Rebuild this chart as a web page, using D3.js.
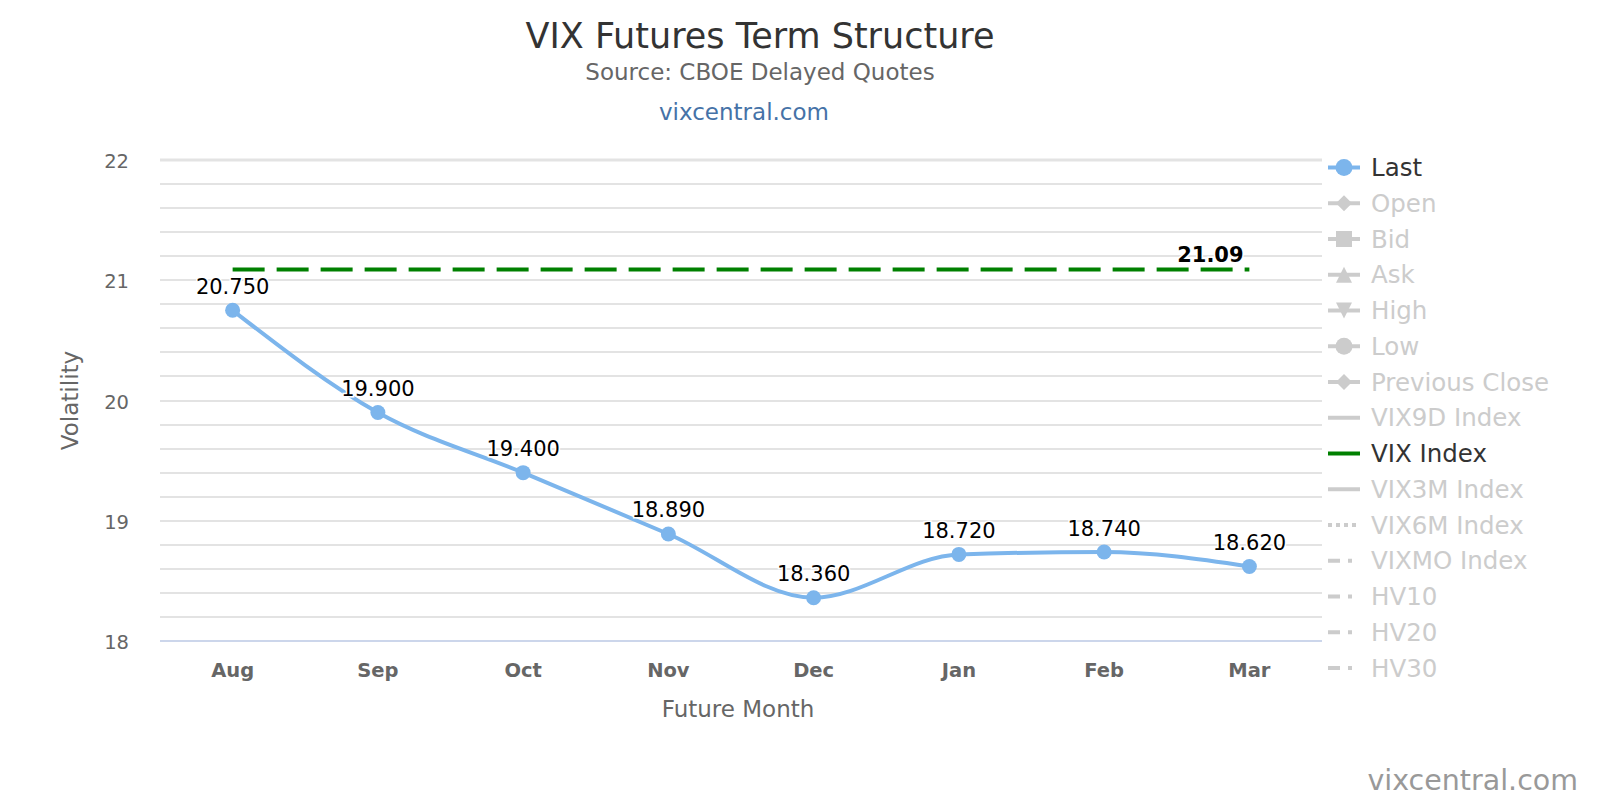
<!DOCTYPE html>
<html>
<head>
<meta charset="utf-8">
<script src="https://cdn.jsdelivr.net/npm/d3@7"></script>
<style>
  body { margin: 0; background: #fff; }
  text { font-family: "DejaVu Sans", Verdana, sans-serif; }
</style>
</head>
<body>
<svg id="chart" width="1600" height="800"></svg>
<script>
// data
var months = ['Aug', 'Sep', 'Oct', 'Nov', 'Dec', 'Jan', 'Feb', 'Mar'];
var lastValues = [20.750, 19.900, 19.400, 18.890, 18.360, 18.720, 18.740, 18.620];
var vixIndex = 21.09;
var yTicks = [18, 19, 20, 21, 22];
var legendNames = ['Last', 'Open', 'Bid', 'Ask', 'High', 'Low', 'Previous Close',
    'VIX9D Index', 'VIX Index', 'VIX3M Index', 'VIX6M Index', 'VIXMO Index', 'HV10', 'HV20', 'HV30'];
var legendSymbols = ['circle', 'diamond', 'square', 'triangle', 'triangle-down', 'circle', 'diamond',
    'line', 'line', 'line', 'dot', 'dashdot', 'dashdot', 'dashdot', 'dashdot'];
var legendActive = ['Last', 'VIX Index'];

var svg = d3.select('#chart');
var plotLeft = 160, plotRight = 1322, plotTop = 160, plotBottom = 641;

var x = d3.scaleBand().domain(months).range([plotLeft, plotRight]);
var y = d3.scaleLinear().domain([18, 22]).range([plotBottom, plotTop]);
var cx = function(d) { return x(d) + x.bandwidth() / 2; };

// titles
svg.append('text').attr('x', 760).attr('y', 48).attr('text-anchor', 'middle')
    .attr('font-size', 35).attr('fill', '#333').text('VIX Futures Term Structure');
svg.append('text').attr('x', 760).attr('y', 80).attr('text-anchor', 'middle')
    .attr('font-size', 23).attr('fill', '#666').text('Source: CBOE Delayed Quotes');
svg.append('text').attr('x', 744).attr('y', 120).attr('text-anchor', 'middle')
    .attr('font-size', 23).attr('fill', '#4572a7').text('vixcentral.com');

// grid lines (minor every 0.2)
var gridVals = d3.range(18.2, 22.01, 0.2);
svg.append('g').selectAll('line')
    .data(gridVals)
    .enter()
    .append('line')
    .attr('x1', plotLeft).attr('x2', plotRight)
    .attr('y1', function(d) { return Math.round(y(d)); })
    .attr('y2', function(d) { return Math.round(y(d)); })
    .attr('stroke', '#e3e3e3')
    .attr('stroke-width', function(d) { return Math.abs(d - 22) < 0.01 ? 3 : 2; });

// x axis line
svg.append('line').attr('x1', plotLeft).attr('x2', plotRight)
    .attr('y1', plotBottom).attr('y2', plotBottom)
    .attr('stroke', '#ccd6eb').attr('stroke-width', 2);

// y axis labels
svg.append('g').selectAll('text')
    .data(yTicks)
    .enter()
    .append('text')
    .attr('x', 129)
    .attr('y', function(d) { return y(d) + 8; })
    .attr('text-anchor', 'end')
    .attr('font-size', 19.5)
    .attr('fill', '#666')
    .text(function(d) { return d; });

svg.append('text')
    .attr('transform', 'translate(78,' + ((plotTop + plotBottom) / 2) + ') rotate(-90)')
    .attr('text-anchor', 'middle').attr('font-size', 23).attr('fill', '#666')
    .text('Volatility');

// x axis labels
svg.append('g').selectAll('text')
    .data(months)
    .enter()
    .append('text')
    .attr('x', cx)
    .attr('y', 677)
    .attr('text-anchor', 'middle')
    .attr('font-size', 19.5)
    .attr('font-weight', 'bold')
    .attr('fill', '#666')
    .text(function(d) { return d; });

svg.append('text').attr('x', 738).attr('y', 717)
    .attr('text-anchor', 'middle').attr('font-size', 23).attr('fill', '#666')
    .text('Future Month');

// VIX index dashed line
svg.append('line')
    .attr('x1', cx(months[0])).attr('x2', cx(months[months.length - 1]))
    .attr('y1', y(vixIndex)).attr('y2', y(vixIndex))
    .attr('stroke', '#008000').attr('stroke-width', 4)
    .attr('stroke-dasharray', '32 12');

// Last series
var line = d3.line()
    .x(function(d, i) { return cx(months[i]); })
    .y(function(d) { return y(d); })
    .curve(d3.curveMonotoneX);

svg.append('path')
    .datum(lastValues)
    .attr('d', line)
    .attr('fill', 'none')
    .attr('stroke', '#7cb5ec')
    .attr('stroke-width', 4);

svg.append('g').selectAll('circle')
    .data(lastValues)
    .enter()
    .append('circle')
    .attr('cx', function(d, i) { return cx(months[i]); })
    .attr('cy', function(d) { return y(d); })
    .attr('r', 7.5)
    .attr('fill', '#7cb5ec');

// data labels
var labels = svg.append('g');
labels.selectAll('text')
    .data(lastValues)
    .enter()
    .append('text')
    .attr('x', function(d, i) { return cx(months[i]); })
    .attr('y', function(d) { return y(d) - 16.5; })
    .attr('text-anchor', 'middle')
    .attr('font-size', 21)
    .attr('fill', '#000')
    .attr('stroke', '#fff').attr('stroke-width', 3).attr('paint-order', 'stroke')
    .text(function(d) { return d.toFixed(3); });

labels.append('text')
    .attr('x', cx(months[months.length - 1]) - 39)
    .attr('y', y(vixIndex) - 7.5)
    .attr('text-anchor', 'middle')
    .attr('font-size', 21)
    .attr('font-weight', 'bold')
    .attr('fill', '#000')
    .attr('stroke', '#fff').attr('stroke-width', 3).attr('paint-order', 'stroke')
    .text(vixIndex.toFixed(2));

// legend
var legend = svg.append('g').attr('transform', 'translate(1328,167.5)');
var rowH = 35.75;
var items = legend.selectAll('g')
    .data(legendNames)
    .enter()
    .append('g')
    .attr('transform', function(d, i) { return 'translate(0,' + (i * rowH) + ')'; });

function itemColor(d) {
    if (d === 'Last') return '#7cb5ec';
    if (d === 'VIX Index') return '#008000';
    return '#cccccc';
}

items.append('line')
    .attr('x1', 0).attr('x2', 32).attr('y1', 0).attr('y2', 0)
    .attr('stroke', itemColor)
    .attr('stroke-width', 4)
    .attr('stroke-dasharray', function(d, i) {
        if (legendSymbols[i] === 'dot') return '4 4';
        if (legendSymbols[i] === 'dashdot') return '12 8 4 8';
        return null;
    });

// marker shapes, centred on 0,0
var shapes = {
    'circle': function(g) { g.append('circle').attr('r', 8.5); },
    'diamond': function(g) { g.append('path').attr('d', 'M0,-8L8,0L0,8L-8,0Z'); },
    'square': function(g) { g.append('rect').attr('x', -8).attr('y', -8).attr('width', 16).attr('height', 16); },
    'triangle': function(g) { g.append('path').attr('d', 'M0,-8L8,8L-8,8Z'); },
    'triangle-down': function(g) { g.append('path').attr('d', 'M-8,-8L8,-8L0,8Z'); }
};
items.each(function(d, i) {
    var s = legendSymbols[i];
    if (!shapes[s]) return;
    var g = d3.select(this).append('g')
        .attr('transform', 'translate(16,0)')
        .attr('fill', itemColor(d));
    shapes[s](g);
});

items.append('text')
    .attr('x', 43).attr('y', 8.5)
    .attr('font-size', 24.5)
    .attr('fill', function(d) { return legendActive.indexOf(d) >= 0 ? '#333' : '#cccccc'; })
    .text(function(d) { return d; });

// watermark
svg.append('text').attr('x', 1578).attr('y', 790).attr('text-anchor', 'end')
    .attr('font-size', 28.5).attr('fill', '#999').text('vixcentral.com');
</script>
</body>
</html>
